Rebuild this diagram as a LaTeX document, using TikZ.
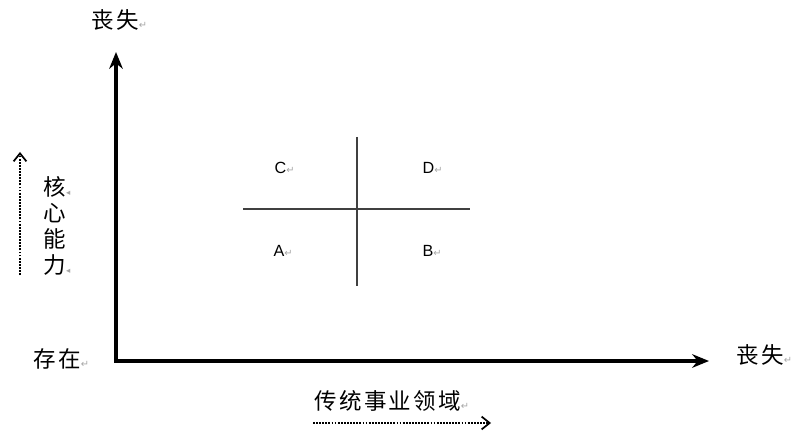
\documentclass[tikz,border=0pt]{standalone}
\usepackage{fontspec}
\usepackage{xcolor}
\setmainfont{Liberation Sans}
\newfontfamily\cjk[LetterSpace=10]{Noto Sans CJK SC}
\newfontfamily\symfont{DejaVu Sans}
\usetikzlibrary{arrows.meta,positioning}
\newcommand{\pmark}{{\symfont\color{gray!70}\fontsize{7}{7}\selectfont ↵}}
\newcommand{\tmark}{{\symfont\color{gray!70}\fontsize{6}{6}\selectfont ◂}}

\begin{document}
\begin{tikzpicture}[
  x=0.025cm, y=-0.025cm,
  lbl/.style={font=\cjk\fontsize{16}{18.5}\selectfont, inner sep=1pt},
  quad/.style={font=\fontsize{11.5}{11.5}\selectfont, inner sep=1pt, anchor=west},
  axis/.style={line width=2.4pt, line join=miter, {Stealth[length=4.2mm,width=3.4mm]}-{Stealth[length=4.2mm,width=3.4mm]}},
  dotarr/.style={dash pattern=on 1.3pt off 0.9pt, line width=1.8pt, -{Straight Barb[length=2mm,width=3.2mm,line width=1.2pt]}},
  cross/.style={draw=black!75, line width=0.9pt}
]
\useasboundingbox (0,0) rectangle (800,432);
% axes
\coordinate (ytip) at (116,52);
\coordinate (orig) at (116,361);
\coordinate (xtip) at (709,361);
\draw[axis] (ytip) -- (orig) -- (xtip);
% axis labels
\node[lbl, anchor=west] (ytop) at (90,20) {丧失\pmark};
\node[lbl, anchor=west] (base) at (32,359) {存在\pmark};
\node[lbl, anchor=west] (xend) at (735,355) {丧失\pmark};
\node[lbl, anchor=west] (field) at (313,401) {传统事业领域\pmark};
\node[lbl, anchor=north west, align=left] (core) at (42,175) {核\tmark\\心\\能\\力\tmark};
% dotted direction arrows
\coordinate (fstart) at (313,423);
\coordinate (fend) at (491,423);
\draw[dotarr] (fstart) -- (fend);
\coordinate (cstart) at (20,275);
\coordinate (cend) at (20,152);
\draw[dotarr] (cstart) -- (cend);
% quadrants
\coordinate (ctop) at (357,137);
\coordinate (cbot) at (357,286);
\coordinate (cleft) at (243,209);
\coordinate (cright) at (470,209);
\draw[cross] (ctop) -- (cbot);
\draw[cross] (cleft) -- (cright);
\node[quad] (qc) at (273,168) {C\pmark};
\node[quad] (qd) at (421,168) {D\pmark};
\node[quad] (qa) at (272,251) {A\pmark};
\node[quad] (qb) at (421,251) {B\pmark};
\end{tikzpicture}
\end{document}
